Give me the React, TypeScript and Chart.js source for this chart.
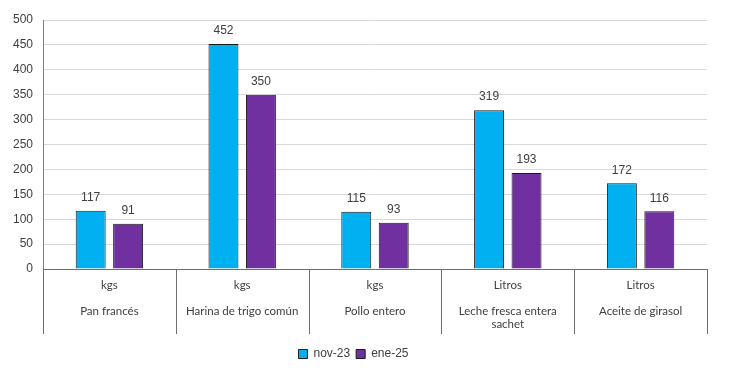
import React, { useEffect, useRef } from "react";
import { Chart, registerables } from "chart.js";

Chart.register(...registerables);

const units = ["kgs", "kgs", "kgs", "Litros", "Litros"];
const productLines = [
  ["Pan francés"],
  ["Harina de trigo común"],
  ["Pollo entero"],
  ["Leche fresca entera", "sachet"],
  ["Aceite de girasol"],
];
const seriesNames = ["nov-23", "ene-25"];
const nov23 = [117, 452, 115, 319, 172];
const ene25 = [91, 350, 93, 193, 116];
const yMin = 0;
const yMax = 500;
const yStep = 50;

const separators = {
  id: "separators",
  afterDraw(chart: any) {
    const { ctx, chartArea } = chart;
    const n = chart.data.labels.length;
    ctx.save();
    ctx.strokeStyle = "#6e6e6e";
    ctx.lineWidth = 1;
    for (let i = 0; i <= n; i++) {
      const x = Math.round(chartArea.left + ((chartArea.right - chartArea.left) * i) / n) + 0.5;
      ctx.beginPath();
      ctx.moveTo(x, chartArea.bottom);
      ctx.lineTo(x, chartArea.bottom + 65);
      ctx.stroke();
    }
    ctx.restore();
  },
};

const valueLabels = {
  id: "valueLabels",
  afterDatasetsDraw(chart: any) {
    const { ctx } = chart;
    ctx.save();
    ctx.font = "12px 'Liberation Sans', Arial, sans-serif";
    ctx.fillStyle = "#404040";
    ctx.textAlign = "center";
    ctx.textBaseline = "bottom";
    chart.data.datasets.forEach((ds: any, di: number) => {
      const meta = chart.getDatasetMeta(di);
      meta.data.forEach((el: any, i: number) => {
        ctx.fillText(String(ds.data[i]), el.x, el.y - 7);
      });
    });
    ctx.restore();
  },
};

export default function App() {
  const ref = useRef<HTMLCanvasElement>(null);
  useEffect(() => {
    if (!ref.current) return;
    const labels = units.map((u, i) => [u, "", ...productLines[i]]);
    const chart = new Chart(ref.current, {
      type: "bar",
      data: {
        labels,
        datasets: [
          {
            label: seriesNames[0],
            data: nov23,
            backgroundColor: "#00B0F0",
            borderColor: "#1a1a1a",
            borderWidth: 1,
            borderSkipped: "bottom",
            categoryPercentage: 0.564,
            barPercentage: 0.8,
          },
          {
            label: seriesNames[1],
            data: ene25,
            backgroundColor: "#7030A0",
            borderColor: "#1a1a1a",
            borderWidth: 1,
            borderSkipped: "bottom",
            categoryPercentage: 0.564,
            barPercentage: 0.8,
          },
        ],
      },
      options: {
        responsive: false,
        animation: false,
        devicePixelRatio: 1,
        layout: { padding: { top: 20, right: 23, left: 0, bottom: 21 } },
        plugins: {
          tooltip: { enabled: false },
          legend: {
            position: "bottom",
            labels: {
              boxWidth: 9,
              boxHeight: 9,
              padding: 6,
              color: "#404040",
              font: { size: 12, family: "'Liberation Sans', Arial, sans-serif" },
            },
          },
        },
        scales: {
          x: {
            afterFit: (s: any) => {
              s.height = 73;
            },
            grid: { display: true, drawOnChartArea: false, drawTicks: false, color: "rgba(0,0,0,0)" },
            border: { display: true, color: "#6e6e6e" },
            ticks: {
              padding: 10,
              color: "#404040",
              maxRotation: 0,
              autoSkip: false,
              font: { size: 11.5, family: "Lato, 'Open Sans', sans-serif", lineHeight: "13px" } as any,
            },
          },
          y: {
            min: yMin,
            max: yMax,
            afterFit: (s: any) => {
              s.width = 43;
            },
            grid: { color: "#d9d9d9", drawTicks: false },
            border: { display: true, color: "#7f7f7f" },
            ticks: {
              stepSize: yStep,
              padding: 10,
              color: "#404040",
              font: { size: 12, family: "'Liberation Sans', Arial, sans-serif" },
            },
          },
        },
      },
      plugins: [separators, valueLabels],
    });
    return () => chart.destroy();
  }, []);
  return (
    <div style={{ position: "fixed", left: 0, top: 0, width: 730, height: 391, background: "#fff" }}>
      <canvas ref={ref} width={730} height={391} />
    </div>
  );
}
